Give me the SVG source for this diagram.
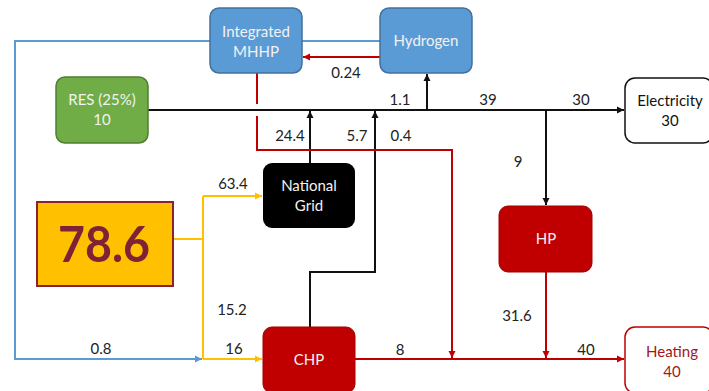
<svg xmlns="http://www.w3.org/2000/svg" width="709" height="391" viewBox="0 0 709 391">
  <style>
    .lbl { font-family: Lato, "Open Sans", "Liberation Sans", sans-serif; font-size: 15px; fill: #222; text-anchor: middle; }
    .nt { font-family: Lato, "Open Sans", "Liberation Sans", sans-serif; font-size: 15px; text-anchor: middle; }
    .w { fill: #f2f2f2; }
    .k { fill: #111; }
    .r { fill: #a01818; }
    .ln { fill: none; stroke-width: 2; }
    .blk { stroke: #111; }
    .red { stroke: #c00000; }
    .yel { stroke: #ffc000; }
    .blu { stroke: #5b9bd5; }
  </style>
  <defs>
    <marker id="aK" markerWidth="8" markerHeight="8" refX="7" refY="4" orient="auto" markerUnits="userSpaceOnUse">
      <path d="M0,0.5 L7,4 L0,7.5 Z" fill="#111"/>
    </marker>
    <marker id="aR" markerWidth="8" markerHeight="8" refX="7" refY="4" orient="auto" markerUnits="userSpaceOnUse">
      <path d="M0,0.5 L7,4 L0,7.5 Z" fill="#c00000"/>
    </marker>
    <marker id="aY" markerWidth="8" markerHeight="8" refX="7" refY="4" orient="auto" markerUnits="userSpaceOnUse">
      <path d="M0,0.5 L7,4 L0,7.5 Z" fill="#ffc000"/>
    </marker>
    <marker id="aB" markerWidth="8" markerHeight="8" refX="7" refY="4" orient="auto" markerUnits="userSpaceOnUse">
      <path d="M0,0.5 L7,4 L0,7.5 Z" fill="#5b9bd5"/>
    </marker>
  </defs>

  <rect width="709" height="391" fill="#fff"/>

  <g id="connectors">
    <!-- hydrogen return loop to CHP -->
    <path class="ln blu" d="M380,41 H15 V359 H202" marker-end="url(#aB)"/>
    <!-- hydrogen to MHHP -->
    <path class="ln red" d="M380,57 H303" marker-end="url(#aR)"/>
    <!-- electricity bus -->
    <path class="ln blk" d="M148,110 H624" marker-end="url(#aK)"/>
    <path class="ln blk" d="M427,110 V74" marker-end="url(#aK)"/>
    <path class="ln blk" d="M310,163 V111" marker-end="url(#aK)"/>
    <path class="ln blk" d="M310,327 V272 H375 V111" marker-end="url(#aK)"/>
    <path class="ln blk" d="M546,110 V205" marker-end="url(#aK)"/>
    <!-- MHHP heat to heating bus -->
    <path class="ln red" d="M257,73 V104 M257,116 V150 H452 V358" marker-end="url(#aR)"/>
    <path class="ln red" d="M546,272 V358" marker-end="url(#aR)"/>
    <path class="ln red" d="M355,359 H624" marker-end="url(#aR)"/>
    <!-- primary supply split -->
    <path class="ln yel" d="M173,239 H203 M203,196 V359"/>
    <path class="ln yel" d="M203,196 H262" marker-end="url(#aY)"/>
    <path class="ln yel" d="M203,359 H262" marker-end="url(#aY)"/>

    <text class="lbl" x="346" y="78">0.24</text>
    <text class="lbl" x="400" y="105">1.1</text>
    <text class="lbl" x="488" y="105">39</text>
    <text class="lbl" x="581" y="105">30</text>
    <text class="lbl" x="290" y="141">24.4</text>
    <text class="lbl" x="357" y="141">5.7</text>
    <text class="lbl" x="401" y="141">0.4</text>
    <text class="lbl" x="518" y="167">9</text>
    <text class="lbl" x="233" y="189">63.4</text>
    <text class="lbl" x="232" y="315">15.2</text>
    <text class="lbl" x="234" y="354">16</text>
    <text class="lbl" x="101" y="354">0.8</text>
    <text class="lbl" x="517" y="321">31.6</text>
    <text class="lbl" x="400" y="355">8</text>
    <text class="lbl" x="586" y="355">40</text>
  </g>

  <g id="mhhp">
    <rect x="210" y="8" width="92" height="65" rx="9" fill="#5b9bd5" stroke="#41719c" stroke-width="1.5"/>
    <text class="nt w" x="256" y="37">Integrated</text>
    <text class="nt w" x="256" y="57">MHHP</text>
  </g>

  <g id="hydrogen">
    <rect x="380" y="8" width="92" height="65" rx="9" fill="#5b9bd5" stroke="#41719c" stroke-width="1.5"/>
    <text class="nt w" x="426" y="46">Hydrogen</text>
  </g>

  <g id="res">
    <rect x="56" y="77" width="92" height="66" rx="9" fill="#70ad47" stroke="#507e32" stroke-width="1.5"/>
    <text class="nt w" x="102" y="105">RES (25%)</text>
    <text class="nt w" x="102" y="125">10</text>
  </g>

  <g id="electricity">
    <rect x="625" y="78" width="88" height="65" rx="10" fill="#fff" stroke="#111" stroke-width="1.5"/>
    <text class="nt k" x="670" y="106">Electricity</text>
    <text class="nt k" x="670" y="126">30</text>
  </g>

  <g id="national-grid">
    <rect x="263" y="163" width="92" height="65" rx="9" fill="#000"/>
    <text class="nt w" x="309" y="191">National</text>
    <text class="nt w" x="309" y="211">Grid</text>
  </g>

  <g id="supply">
    <rect x="37" y="202" width="136" height="84" fill="#ffc000" stroke="#8b2232" stroke-width="2"/>
    <text x="104" y="262" font-family="Lato, 'Open Sans', 'Liberation Sans', sans-serif" font-size="50" font-weight="bold" fill="#7f2236" text-anchor="middle" textLength="92" lengthAdjust="spacingAndGlyphs">78.6</text>
  </g>

  <g id="hp">
    <rect x="499" y="206" width="93" height="66" rx="9" fill="#c00000" stroke="#a00000" stroke-width="1"/>
    <text class="nt w" x="546" y="244">HP</text>
  </g>

  <g id="chp">
    <rect x="263" y="327" width="92" height="66" rx="9" fill="#c00000" stroke="#a00000" stroke-width="1"/>
    <text class="nt w" x="309" y="365">CHP</text>
  </g>

  <g id="heating">
    <rect x="625" y="327" width="88" height="66" rx="10" fill="#fff" stroke="#c00000" stroke-width="1.5"/>
    <text class="nt r" x="672" y="357">Heating</text>
    <text class="nt r" x="672" y="377">40</text>
  </g>
</svg>
